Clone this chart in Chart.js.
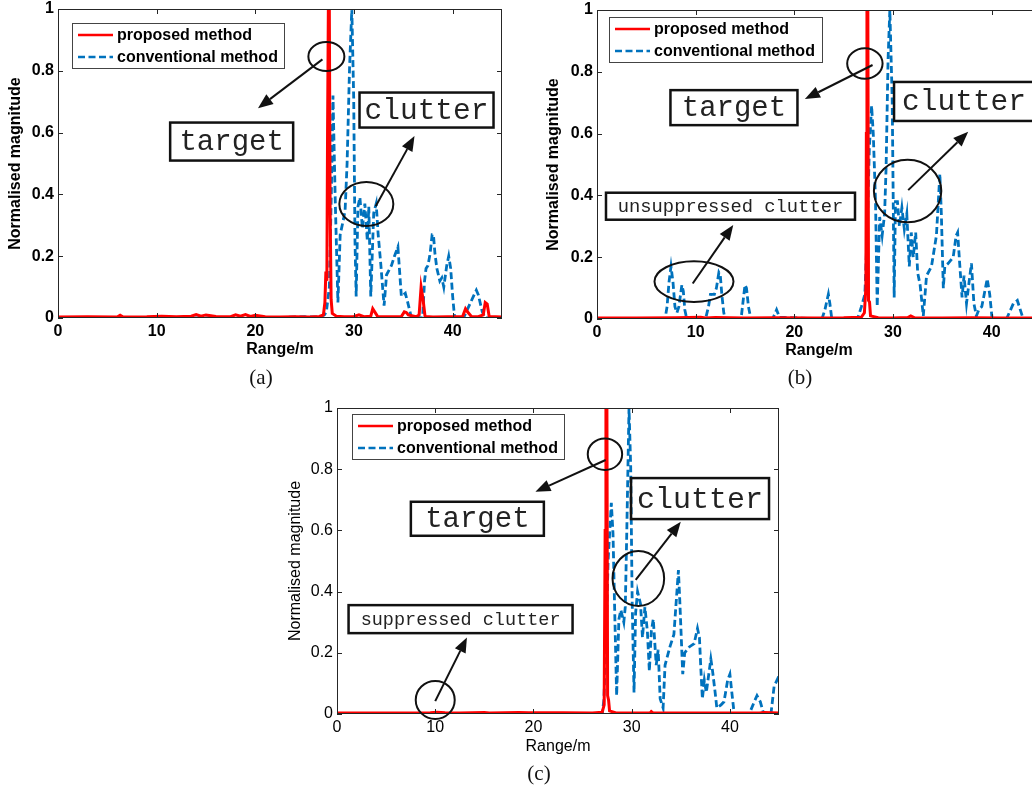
<!DOCTYPE html>
<html>
<head>
<meta charset="utf-8">
<script src="https://cdn.jsdelivr.net/npm/chart.js@4.4.1/dist/chart.umd.min.js"></script>
<style>
  html, body { margin: 0; padding: 0; background: #fff; overflow: hidden; }
  body { width: 1032px; height: 789px; position: relative; }
  .panel { position: absolute; }
  .caption {
    position: absolute;
    font-family: 'Liberation Serif', 'Times New Roman', serif;
    font-size: 21px;
    color: #111;
    transform: translate(-50%, -50%);
  }
</style>
</head>
<body>
<div class="panel" style="left:0px;top:0px"><canvas id="chartA" width="510" height="395"></canvas></div>
<div class="panel" style="left:540px;top:0px"><canvas id="chartB" width="520" height="395"></canvas></div>
<div class="panel" style="left:280px;top:395px"><canvas id="chartC" width="510" height="394"></canvas></div>
<div class="caption" style="left:261px;top:377px">(a)</div>
<div class="caption" style="left:800px;top:377px">(b)</div>
<div class="caption" style="left:539px;top:773px">(c)</div>

<script>
const RED = 'rgb(255, 0, 0)';
const BLUE = 'rgb(0, 114, 189)';
const AXIS = '#262626';

// Axis ticks
const rangeTicks = [0, 10, 20, 30, 40];
const rangeTickLabels = ['0', '10', '20', '30', '40'];
const magTicks = [0, 0.2, 0.4, 0.6, 0.8, 1];
const magTickLabels = ['0', '0.2', '0.4', '0.6', '0.8', '1'];

// (a) proposed method
const propRangeA = [0, 3, 6, 6.3, 6.6, 9, 10.5, 12, 13.5, 14, 14.5, 15, 16, 17.5, 18, 18.5, 19, 19.5, 20, 21, 22.5, 24, 25.5, 26.5,
    26.9, 27.05, 27.15, 27.25, 27.32, 27.4, 27.5, 27.58, 27.68, 27.8, 28.2, 29, 30, 30.5, 31, 31.7, 31.9, 32.1, 32.4, 33.5,
    34.8, 35.1, 35.3, 35.5, 36.3, 36.6, 36.8, 37.0, 37.2, 38, 39.5, 41.0, 41.3, 41.5, 41.9, 42.6, 43.1, 43.3, 43.5, 43.7, 45];
const propMagA = [0.003, 0.004, 0.003, 0.009, 0.003, 0.004, 0.006, 0.004, 0.006, 0.011, 0.006, 0.01, 0.005, 0.004, 0.01, 0.006, 0.011, 0.005, 0.009, 0.004, 0.003, 0.004, 0.003, 0.005,
    0.01, 0.05, 0.15, 0.12, 0.6, 1.0, 1.0, 0.35, 0.06, 0.015, 0.006, 0.004, 0.005, 0.01, 0.004, 0.006, 0.03, 0.02, 0.005, 0.004,
    0.005, 0.02, 0.018, 0.01, 0.004, 0.01, 0.10, 0.06, 0.005, 0.003, 0.004, 0.004, 0.03, 0.02, 0.005, 0.004, 0.01, 0.05, 0.045, 0.005, 0.003];

// (a) conventional method
const convRangeA = [0, 22.8, 23.5, 25, 26.5, 27.0, 27.2, 27.5, 27.7, 27.87, 28.1, 28.37, 28.6, 28.94, 29.1, 29.3, 29.55, 29.78,
    29.97, 30.1, 30.22, 30.4, 30.6, 30.85, 31.1, 31.35, 31.5, 31.7, 32.0, 32.25, 32.45, 32.7, 33.05, 33.3, 33.8, 34.1, 34.45,
    34.8, 35.2, 35.45, 35.6, 35.8, 36.95, 37.15, 37.3, 37.5, 37.72, 37.92, 38.05, 38.2, 38.4, 38.7, 38.9, 39.1, 39.4, 39.6,
    39.8, 40.0, 40.2, 41.1, 41.6, 42.1, 42.4, 42.6, 43.0, 43.3, 45];
const convMagA = [0, 0, 0.003, 0.004, 0.003, 0.01, 0.02, 0.1, 0.4, 0.72, 0.38, 0.05, 0.27, 0.32, 0.35, 0.5, 0.81, 1.0,
    0.71, 0.25, 0.07, 0.36, 0.39, 0.29, 0.37, 0.25, 0.36, 0.07, 0.34, 0.37, 0.27, 0.18, 0.04, 0.14, 0.17, 0.2, 0.23,
    0.07, 0.08, 0.05, 0.03, 0.004, 0, 0.12, 0.16, 0.17, 0.21, 0.27, 0.27, 0.21, 0.16, 0.12, 0.13, 0.10, 0.17, 0.20,
    0.16, 0.07, 0, 0, 0.035, 0.07, 0.09, 0.075, 0.02, 0, 0];

// (b) proposed method
const propRangeB = [0, 4, 8, 10.5, 11, 12, 15, 18, 22, 25, 26.8, 27.1, 27.25, 27.3, 27.36, 27.45, 27.52, 27.62, 27.72,
    28.5, 30, 31.5, 31.8, 32.2, 35, 38, 41, 45];
const propMagB = [0.003, 0.003, 0.004, 0.006, 0.003, 0.005, 0.003, 0.004, 0.003, 0.004, 0.006, 0.02, 0.1, 0.6, 1.0, 1.0, 0.06, 0.055, 0.01,
    0.004, 0.003, 0.005, 0.01, 0.004, 0.003, 0.004, 0.003, 0.003];

// (b) conventional method
const convRangeB = [0, 4.0, 6.9, 7.1, 7.3, 7.5, 7.7, 7.9, 8.1, 8.3, 8.6, 8.75, 8.9, 9.1, 11.0, 11.3, 11.5, 11.9, 12.1, 12.35,
    12.5, 12.65, 12.85, 13.0, 14.6, 14.85, 15.0, 15.15, 15.35, 15.6, 17.8, 18.2, 18.5, 19, 22.8, 23.1, 23.45, 23.6, 23.8,
    26.4, 26.8, 27.15, 27.4, 27.6, 27.83, 28.0, 28.23, 28.4, 28.65, 28.9, 29.15, 29.3, 29.5, 29.68, 29.92, 30.12, 30.25,
    30.45, 30.65, 30.9, 31.15, 31.4, 31.65, 31.85, 32.05, 32.3, 32.5, 32.75, 33.07, 33.4, 33.9, 34.4, 34.75, 34.9, 35.1,
    35.25, 35.6, 36.1, 36.4, 36.55, 36.8, 37.0, 37.2, 37.45, 37.75, 37.95, 38.2, 38.45, 38.7, 39.0, 39.55, 39.8, 40.05,
    41.5, 42.2, 42.6, 43.2, 45];
const convMagB = [0, 0, 0, 0.04, 0.12, 0.17, 0.12, 0.04, 0.02, 0.04, 0.11, 0.09, 0.03, 0, 0, 0.04, 0.08, 0.08, 0.1, 0.15,
    0.14, 0.08, 0.02, 0, 0, 0.07, 0.11, 0.1, 0.04, 0, 0, 0.03, 0.005, 0.005, 0, 0.03, 0.08, 0.05, 0,
    0, 0.04, 0.08, 0.3, 0.55, 0.69, 0.60, 0.38, 0.04, 0.33, 0.27, 0.34, 0.49, 0.84, 1.0, 0.71, 0.07, 0.38,
    0.38, 0.30, 0.36, 0.29, 0.34, 0.17, 0.28, 0.2, 0.28, 0.15, 0.11, 0.01, 0.14, 0.17, 0.27, 0.47, 0.34, 0.1,
    0.17, 0.18, 0.2, 0.27, 0.28, 0.16, 0.07, 0.14, 0.05, 0.13, 0.18, 0.05, 0.01, 0.03, 0.04, 0.13, 0.08, 0,
    0, 0.05, 0.06, 0, 0];

// (c) proposed method
const propRangeC = [0, 5, 9.5, 10.2, 11, 12.5, 15, 15.5, 18.5, 19.5, 23, 26, 27.0, 27.2, 27.3, 27.38, 27.48, 27.55, 27.65,
    27.75, 28.5, 31.9, 32.0, 32.2, 37.5, 43, 43.5, 45];
const propMagC = [0.003, 0.003, 0.004, 0.006, 0.004, 0.003, 0.005, 0.003, 0.005, 0.004, 0.004, 0.003, 0.006, 0.03, 0.6, 1.0, 1.0, 0.06, 0.045,
    0.01, 0.003, 0.004, 0.008, 0.003, 0.003, 0.003, 0.005, 0.003];

// (c) conventional method
const convRangeC = [0, 27.0, 27.17, 27.4, 27.6, 27.93, 28.1, 28.25, 28.47, 28.7, 28.9, 29.2, 29.35, 29.5, 29.73, 29.9, 30.05,
    30.24, 30.4, 30.6, 30.9, 31.1, 31.35, 31.6, 31.8, 32.0, 32.2, 32.5, 32.7, 32.9, 33.2, 33.4, 33.9, 34.3, 34.76, 34.9,
    35.2, 35.4, 35.9, 36.36, 36.7, 36.9, 37.04, 37.2, 37.4, 37.6, 38.06, 38.2, 38.5, 38.67, 39.1, 39.4, 39.77, 40.0, 40.2,
    40.44, 41.97, 42.48, 42.76, 43.1, 43.44, 44.18, 44.5, 44.93, 45];
const convMagC = [0, 0, 0.045, 0.25, 0.5, 0.69, 0.59, 0.37, 0.06, 0.31, 0.34, 0.30, 0.35, 0.59, 1.0, 0.81, 0.37,
    0.07, 0.33, 0.40, 0.36, 0.25, 0.35, 0.27, 0.14, 0.27, 0.31, 0.16, 0.21, 0.05, 0.02, 0.16, 0.22, 0.26, 0.47, 0.37,
    0.13, 0.2, 0.22, 0.23, 0.28, 0.25, 0.15, 0.05, 0.11, 0.07, 0.18, 0.15, 0.07, 0.02, 0.03, 0.04, 0.11, 0.13, 0.07,
    0, 0, 0.04, 0.06, 0.04, 0, 0, 0.09, 0.12, 0.12];

function toPoints(xs, ys) {
    return xs.map((x, i) => ({ x: x, y: ys[i] }));
}

// Box round the plot area with inward tick marks on all four sides
const framePlugin = {
    id: 'frame',
    afterDatasetsDraw(chart) {
        const { ctx, chartArea: a, scales } = chart;
        const len = 5;
        ctx.save();
        ctx.strokeStyle = AXIS;
        ctx.lineWidth = 1;
        ctx.strokeRect(a.left + 0.5, a.top + 0.5, a.right - a.left - 1, a.bottom - a.top - 1);
        ctx.beginPath();
        rangeTicks.forEach((v) => {
            const x = Math.round(scales.x.getPixelForValue(v)) + 0.5;
            ctx.moveTo(x, a.bottom); ctx.lineTo(x, a.bottom - len);
            ctx.moveTo(x, a.top); ctx.lineTo(x, a.top + len);
        });
        magTicks.forEach((v) => {
            const y = Math.round(scales.y.getPixelForValue(v)) + 0.5;
            ctx.moveTo(a.left, y); ctx.lineTo(a.left + len, y);
            ctx.moveTo(a.right, y); ctx.lineTo(a.right - len, y);
        });
        ctx.stroke();
        ctx.restore();
    },
};

// Legend box inside the plot area
const insetLegendPlugin = {
    id: 'insetLegend',
    afterDraw(chart, args, opts) {
        const { ctx, chartArea: a } = chart;
        const x0 = a.left + opts.dx;
        const y0 = a.top + opts.dy;
        ctx.save();
        ctx.fillStyle = '#fff';
        ctx.fillRect(x0, y0, opts.w, opts.h);
        ctx.strokeStyle = '#444';
        ctx.lineWidth = 1;
        ctx.strokeRect(x0 + 0.5, y0 + 0.5, opts.w, opts.h);
        const rows = [
            { text: 'proposed method', color: RED, dash: [] },
            { text: 'conventional method', color: BLUE, dash: [7, 3.5] },
        ];
        ctx.font = 'bold 16px "Liberation Sans", Arial, sans-serif';
        ctx.textBaseline = 'middle';
        rows.forEach((row, i) => {
            const y = y0 + 12 + i * 22;
            ctx.strokeStyle = row.color;
            ctx.lineWidth = 2.5;
            ctx.setLineDash(row.dash);
            ctx.beginPath();
            ctx.moveTo(x0 + 6, y);
            ctx.lineTo(x0 + 41, y);
            ctx.stroke();
            ctx.setLineDash([]);
            ctx.fillStyle = '#000';
            ctx.fillText(row.text, x0 + 45, y + 1);
        });
        ctx.restore();
    },
};

// Rings, arrows and labelled boxes placed in data coordinates
const calloutPlugin = {
    id: 'callouts',
    afterDraw(chart, args, opts) {
        const { ctx, scales } = chart;
        const px = (v) => scales.x.getPixelForValue(v);
        const py = (v) => scales.y.getPixelForValue(v);
        ctx.save();
        ctx.strokeStyle = '#111';
        ctx.fillStyle = '#111';
        ctx.lineWidth = 2;
        (opts.items || []).forEach((it) => {
            if (it.type === 'ring') {
                ctx.beginPath();
                ctx.ellipse(px(it.x), py(it.y), it.rx, it.ry, 0, 0, Math.PI * 2);
                ctx.stroke();
            } else if (it.type === 'arrow') {
                const x1 = px(it.from[0]), y1 = py(it.from[1]);
                const x2 = px(it.to[0]), y2 = py(it.to[1]);
                const ang = Math.atan2(y2 - y1, x2 - x1);
                const head = 15, half = 6;
                const bx = x2 - head * Math.cos(ang);
                const by = y2 - head * Math.sin(ang);
                ctx.beginPath();
                ctx.moveTo(x1, y1);
                ctx.lineTo(bx, by);
                ctx.stroke();
                ctx.beginPath();
                ctx.moveTo(x2, y2);
                ctx.lineTo(bx + half * Math.sin(ang), by - half * Math.cos(ang));
                ctx.lineTo(bx - half * Math.sin(ang), by + half * Math.cos(ang));
                ctx.closePath();
                ctx.fill();
            } else if (it.type === 'tag') {
                const cx = px(it.x), cy = py(it.y);
                ctx.lineWidth = 2.5;
                ctx.strokeRect(cx - it.w / 2, cy - it.h / 2, it.w, it.h);
                ctx.lineWidth = 2;
                ctx.font = it.size + 'px "Liberation Mono", "DejaVu Sans Mono", monospace';
                ctx.fillStyle = '#222';
                ctx.textAlign = 'center';
                ctx.textBaseline = 'middle';
                ctx.fillText(it.text, cx, cy + 1);
                ctx.fillStyle = '#111';
            }
        });
        ctx.restore();
    },
};

function buildPanel(canvasId, p) {
    const ctx = document.getElementById(canvasId);
    const tickFont = { family: '"Liberation Sans", Arial, sans-serif', size: 16, weight: p.weight };
    return new Chart(ctx, {
        type: 'line',
        data: {
            datasets: [
                {
                    label: 'proposed method',
                    data: p.proposed,
                    borderColor: RED,
                    borderWidth: 3,
                    pointRadius: 0,
                    tension: 0,
                    fill: false,
                },
                {
                    label: 'conventional method',
                    data: p.conventional,
                    borderColor: BLUE,
                    borderWidth: 2.8,
                    borderDash: [7, 3.5],
                    pointRadius: 0,
                    tension: 0,
                    fill: false,
                },
            ],
        },
        options: {
            responsive: false,
            animation: false,
            events: [],
            layout: {
                padding: { top: p.top, right: p.right, left: 0, bottom: 0 },
            },
            plugins: {
                legend: { display: false },
                tooltip: { enabled: false },
                insetLegend: p.legend,
                callouts: { items: p.callouts },
            },
            scales: {
                x: {
                    type: 'linear',
                    min: 0,
                    max: 45,
                    grid: { display: false, drawTicks: false },
                    border: { display: false },
                    afterBuildTicks: (scale) => {
                        scale.ticks = rangeTicks.map((v) => ({ value: v }));
                    },
                    afterFit: (scale) => {
                        scale.height = p.xHeight;
                        scale.paddingLeft = 0;
                        scale.paddingRight = 0;
                    },
                    ticks: {
                        color: '#000',
                        font: tickFont,
                        padding: p.xTickPad,
                        maxRotation: 0,
                        autoSkip: false,
                        callback: (v, i) => rangeTickLabels[i],
                    },
                    title: {
                        display: true,
                        text: 'Range/m',
                        color: '#000',
                        font: tickFont,
                        padding: { top: 0, bottom: p.xTitlePad },
                    },
                },
                y: {
                    min: 0,
                    max: 1,
                    grid: { display: false, drawTicks: false },
                    border: { display: false },
                    afterBuildTicks: (scale) => {
                        scale.ticks = magTicks.map((v) => ({ value: v }));
                    },
                    afterFit: (scale) => {
                        scale.width = p.yWidth;
                        scale.paddingTop = 0;
                        scale.paddingBottom = 0;
                    },
                    ticks: {
                        color: '#000',
                        font: tickFont,
                        padding: 4,
                        autoSkip: false,
                        callback: (v, i) => magTickLabels[i],
                    },
                    title: {
                        display: true,
                        text: 'Normalised magnitude',
                        color: '#000',
                        font: tickFont,
                        padding: { top: p.yTitlePad, bottom: 0 },
                    },
                },
            },
        },
        plugins: [framePlugin, insetLegendPlugin, calloutPlugin],
    });
}

let chartA = null;
let chartB = null;
let chartC = null;

// Initialize charts
function initCharts() {
    chartA = buildPanel('chartA', {
        proposed: toPoints(propRangeA, propMagA),
        conventional: toPoints(convRangeA, convMagA),
        weight: 'bold',
        top: 9, right: 8, yWidth: 58, xHeight: 77,
        xTickPad: 4, xTitlePad: 36, yTitlePad: 6,
        legend: { dx: 14, dy: 14, w: 212, h: 45 },
        callouts: [
            { type: 'ring', x: 27.2, y: 0.846, rx: 18, ry: 14.5 },
            { type: 'arrow', from: [26.8, 0.837], to: [20.27, 0.679] },
            { type: 'tag', x: 17.6, y: 0.571, text: 'target', size: 29, w: 123, h: 38 },
            { type: 'tag', x: 37.35, y: 0.673, text: 'clutter', size: 29.5, w: 134, h: 35 },
            { type: 'ring', x: 31.25, y: 0.369, rx: 27, ry: 22 },
            { type: 'arrow', from: [32.2, 0.362], to: [36.13, 0.589] },
        ],
    });

    chartB = buildPanel('chartB', {
        proposed: toPoints(propRangeB, propMagB),
        conventional: toPoints(convRangeB, convMagB),
        weight: 'bold',
        top: 10, right: 19, yWidth: 57, xHeight: 76,
        xTickPad: 4, xTitlePad: 35, yTitlePad: 4,
        legend: { dx: 12, dy: 7, w: 213, h: 45 },
        callouts: [
            { type: 'ring', x: 27.15, y: 0.827, rx: 17.7, ry: 15.3 },
            { type: 'arrow', from: [27.93, 0.822], to: [21.07, 0.712] },
            { type: 'tag', x: 13.88, y: 0.684, text: 'target', size: 29, w: 127, h: 35 },
            { type: 'tag', x: 37.2, y: 0.704, text: 'clutter', size: 29.5, w: 140, h: 39 },
            { type: 'ring', x: 31.48, y: 0.414, rx: 33.7, ry: 31.3 },
            { type: 'arrow', from: [31.54, 0.417], to: [37.62, 0.606] },
            { type: 'tag', x: 13.53, y: 0.365, text: 'unsuppressed clutter', size: 18.8, w: 249, h: 27 },
            { type: 'ring', x: 9.83, y: 0.121, rx: 39.5, ry: 20.3 },
            { type: 'arrow', from: [9.7, 0.115], to: [13.81, 0.304] },
        ],
    });

    chartC = buildPanel('chartC', {
        proposed: toPoints(propRangeC, propMagC),
        conventional: toPoints(convRangeC, convMagC),
        weight: 'normal',
        top: 13, right: 11, yWidth: 57, xHeight: 75,
        xTickPad: 4, xTitlePad: 33, yTitlePad: 6,
        legend: { dx: 15, dy: 6, w: 212, h: 45 },
        callouts: [
            { type: 'ring', x: 27.28, y: 0.849, rx: 17.2, ry: 15.8 },
            { type: 'arrow', from: [27.35, 0.83], to: [20.2, 0.726] },
            { type: 'tag', x: 14.29, y: 0.638, text: 'target', size: 29, w: 133, h: 34 },
            { type: 'tag', x: 36.96, y: 0.704, text: 'clutter', size: 30, w: 138, h: 41 },
            { type: 'ring', x: 30.68, y: 0.443, rx: 25.8, ry: 27.5 },
            { type: 'arrow', from: [30.41, 0.438], to: [35.0, 0.628] },
            { type: 'tag', x: 12.58, y: 0.31, text: 'suppressed clutter', size: 18.5, w: 224, h: 28 },
            { type: 'ring', x: 10.0, y: 0.046, rx: 19.5, ry: 19 },
            { type: 'arrow', from: [10.0, 0.042], to: [13.23, 0.25] },
        ],
    });
}

initCharts();
</script>
</body>
</html>
